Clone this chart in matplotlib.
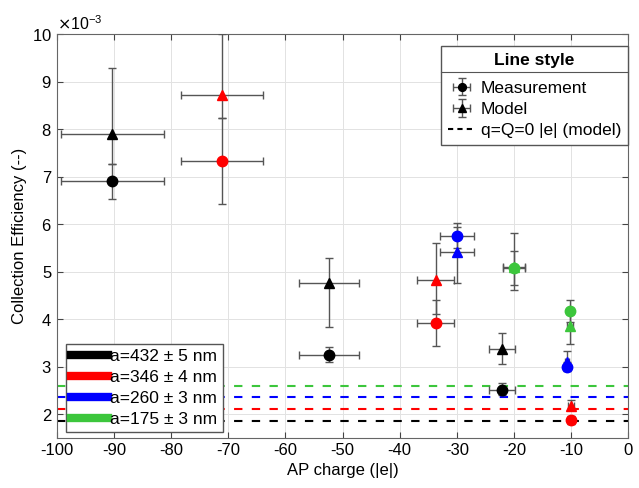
"""
Collection efficiency vs AP charge, per particle size.
Measurement (circle) and model (triangle), plus q=Q=0 model baselines (dashed).
"""
import matplotlib
matplotlib.use("Agg")
import matplotlib.pyplot as plt
from matplotlib.lines import Line2D
from matplotlib.ticker import ScalarFormatter, MultipleLocator

plt.rcParams["font.family"] = ["Liberation Sans", "DejaVu Sans"]
plt.rcParams["axes.unicode_minus"] = False

# values in units of 1e-3
SIZES = ["a=432 ± 5 nm", "a=346 ± 4 nm", "a=260 ± 3 nm", "a=175 ± 3 nm"]
COLORS = ["#000000", "#ff0000", "#0000ff", "#3cc63c"]

CHARGE = [[-90.3, -52.4, -22.1],
          [-71.1, -33.7, -10.0],
          [-30.0, -10.7],
          [-20.0, -10.2]]
CHARGE_ERR = [[9.0, 5.25, 2.3],
              [7.2, 3.2, 0.5],
              [3.0, 0.4],
              [1.9, 0.5]]

MEAS = [[6.90, 3.25, 2.51],
        [7.33, 3.92, 1.88],
        [5.76, 3.00],
        [5.08, 4.18]]
MEAS_LO = [[6.54, 3.09, 2.40],
           [6.43, 3.44, 1.80],
           [5.50, 2.90],
           [4.62, 3.95]]
MEAS_HI = [[7.27, 3.42, 2.65],
           [8.23, 4.41, 1.96],
           [6.02, 3.10],
           [5.44, 4.41]]

MODEL = [[7.90, 4.76, 3.37],
         [8.72, 4.83, 2.18],
         [5.41, 3.10],
         [5.10, 3.85]]
MODEL_LO = [[7.27, 3.84, 3.05],
            [8.23, 4.10, 2.10],
            [4.76, 2.95],
            [4.71, 3.47]]
MODEL_HI = [[9.28, 5.28, 3.70],
            [10.0, 5.60, 2.30],
            [5.95, 3.33],
            [5.82, 4.10]]

BASELINE = [1.86, 2.11, 2.36, 2.60]

SCALE = 1e-3
ERR_COLOR = "#555555"


def errbar(ax, x, xe, y, lo, hi, marker, color):
    yv = [v * SCALE for v in y]
    yerr = [[(v - l) * SCALE for v, l in zip(y, lo)],
            [(h - v) * SCALE for v, h in zip(y, hi)]]
    return ax.errorbar(x, yv, xerr=xe, yerr=yerr, fmt=marker, ms=7.5,
                       mfc=color, mec=color, ecolor=ERR_COLOR, elinewidth=1.0,
                       capsize=3, capthick=1.0, zorder=3)


def main():
    fig = plt.figure(figsize=(6.39, 4.88), dpi=100)
    ax = fig.add_axes([0.089, 0.1025, 0.894, 0.8275])

    for b, c in zip(BASELINE, COLORS):
        ax.axhline(b * SCALE, color=c, lw=1.5, ls="--", dashes=(4, 4.5), zorder=2)

    meas_h, model_h = None, None
    for i, c in enumerate(COLORS):
        hm = errbar(ax, CHARGE[i], CHARGE_ERR[i], MEAS[i], MEAS_LO[i], MEAS_HI[i], "o", c)
        hd = errbar(ax, CHARGE[i], CHARGE_ERR[i], MODEL[i], MODEL_LO[i], MODEL_HI[i], "^", c)
        if i == 0:
            meas_h, model_h = hm, hd

    ax.set_xlim(-100, 0)
    ax.set_ylim(1.5e-3, 10e-3)
    ax.xaxis.set_major_locator(MultipleLocator(10))
    ax.yaxis.set_major_locator(MultipleLocator(1e-3))
    fmt = ScalarFormatter(useMathText=True)
    fmt.set_powerlimits((-3, -3))
    ax.yaxis.set_major_formatter(fmt)
    ax.yaxis.get_offset_text().set_fontsize(11.5)

    ax.tick_params(direction="in", top=True, right=True, labelsize=12,
                   length=4, color="#444444")
    for s in ax.spines.values():
        s.set_color("#666666")
        s.set_linewidth(0.8)
    ax.grid(True, color="#e2e2e2", lw=0.7)
    ax.set_axisbelow(True)

    ax.set_xlabel("AP charge (|e|)", fontsize=12)
    ax.set_ylabel("Collection Efficiency (--)", fontsize=12)

    # size legend (lower left)
    size_handles = [Line2D([], [], color=c, lw=6) for c in COLORS]
    leg1 = ax.legend(size_handles, SIZES, loc="lower left",
                     bbox_to_anchor=(0.016, 0.015), borderaxespad=0,
                     fontsize=12.5, handlelength=2.1, handletextpad=0.15,
                     labelspacing=0.33, borderpad=0.3, fancybox=False,
                     framealpha=1, edgecolor="#555555")
    ax.add_artist(leg1)

    # line style legend (upper right)
    style_handles = [meas_h, model_h,
                     Line2D([], [], color="k", lw=1.5, ls="--", dashes=(2.5, 2))]
    style_labels = ["Measurement", "Model", "q=Q=0 |e| (model)"]
    leg2 = ax.legend(style_handles, style_labels, loc="upper right",
                     bbox_to_anchor=(1.0, 0.97), borderaxespad=0,
                     fontsize=12.5, handlelength=1.6, handletextpad=0.3,
                     labelspacing=0.35, borderpad=0.4, fancybox=False,
                     markerscale=0.75,
                     framealpha=1, edgecolor="#555555",
                     title="Line style",
                     title_fontproperties={"weight": "bold", "size": 12.5})
    leg2._legend_box.sep = 9

    # separator under the legend title
    fig.canvas.draw()
    r = fig.canvas.get_renderer()
    lb = leg2.get_window_extent(r)
    tb = leg2.get_title().get_window_extent(r)
    y = (tb.y0 - 4) / fig.bbox.height
    fig.add_artist(Line2D([lb.x0 / fig.bbox.width, lb.x1 / fig.bbox.width], [y, y],
                          color="#555555", lw=0.8, transform=fig.transFigure))

    fig.savefig("out.png", dpi=100)


if __name__ == "__main__":
    main()
